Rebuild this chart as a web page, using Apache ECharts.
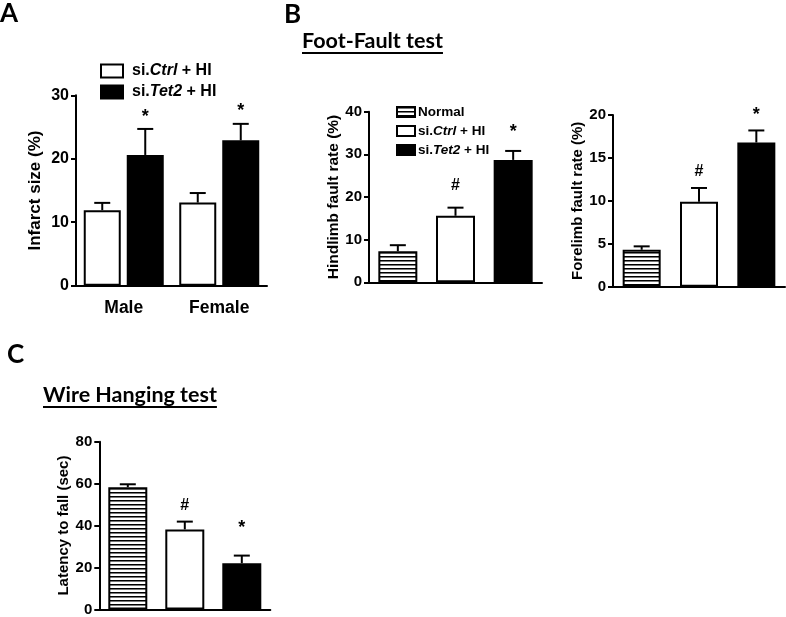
<!DOCTYPE html>
<html>
<head>
<meta charset="utf-8">
<script src="https://cdn.jsdelivr.net/npm/echarts@6/dist/echarts.min.js"></script>
<style>html,body{margin:0;padding:0;background:#fff}#c{width:786px;height:617px}</style>
</head>
<body>
<div id="c"></div>
<script>
// ---------- data ----------
const sexCategories = ['Male', 'Female'];
const infarctCtrl = [11.9, 13.1];
const infarctCtrlSem = [1.15, 1.5];
const infarctTet2 = [20.6, 22.9];
const infarctTet2Sem = [4.1, 2.6];
const infarctTet2Marks = ['*', '*'];
const infarctTet2MarkLevel = [27.2, 28.05];

const groupNames = ['Normal', 'si.Ctrl + HI', 'si.Tet2 + HI'];
const hindlimb = [7.3, 15.6, 28.7];
const hindlimbSem = [1.4, 1.9, 2.1];
const hindlimbMarks = ['', '#', '*'];
const hindlimbMarkLevel = [0, 22.6, 36.1];

const forelimb = [4.3, 9.9, 16.8];
const forelimbSem = [0.4, 1.6, 1.4];
const forelimbMarks = ['', '#', '*'];
const forelimbMarkLevel = [0, 13.4, 20.4];

const latency = [58.3, 38.2, 22.1];
const latencySem = [1.4, 3.7, 3.6];
const latencyMarks = ['', '#', '*'];
const latencyMarkLevel = [0, 49.4, 40.5];

const ticksInfarct = {min: 0, max: 30, interval: 10};
const ticksHind = {min: 0, max: 40, interval: 10};
const ticksFore = {min: 0, max: 20, interval: 5};
const ticksLatency = {min: 0, max: 80, interval: 20};

// ---------- styles ----------
const SANS = '"Liberation Sans", Arial, sans-serif';
const TITLEF = 'Lato, "Open Sans", sans-serif';

function stripePattern() {
  const c = document.createElement('canvas');
  c.width = 4; c.height = 4;
  const g = c.getContext('2d');
  g.fillStyle = '#fff'; g.fillRect(0, 0, 4, 4);
  g.fillStyle = '#000'; g.fillRect(0, 0, 4, 1);
  g.fillStyle = '#777'; g.fillRect(0, 1, 4, 1);
  return {image: c, repeat: 'repeat'};
}
const stripes = stripePattern();
const groupStyles = [
  {color: stripes, borderColor: '#000', borderWidth: 2},
  {color: '#fff', borderColor: '#000', borderWidth: 2},
  {color: '#000', borderColor: '#000', borderWidth: 2}
];

function legendFormatter(name) {
  if (name === 'si.Ctrl + HI') return '{n|si.}{i|Ctrl}{n| + HI}';
  if (name === 'si.Tet2 + HI') return '{n|si.}{i|Tet2}{n| + HI}';
  return '{n|' + name + '}';
}
function legendRich(size, lh) {
  return {
    n: {fontFamily: SANS, fontWeight: 'bold', fontSize: size, lineHeight: lh, color: '#000'},
    i: {fontFamily: SANS, fontWeight: 'bold', fontStyle: 'italic', fontSize: size, lineHeight: lh, color: '#000'}
  };
}

function errorRenderer(means, sems, marks, levels, offset) {
  return function (params, api) {
    const i = params.dataIndex;
    const base = api.coord([i, means[i]]);
    const top = api.coord([i, means[i] + sems[i]]);
    const cx = base[0] + offset;
    const half = 8;
    const children = [
      {type: 'line', shape: {x1: cx, y1: base[1], x2: cx, y2: top[1]}, style: {stroke: '#000', lineWidth: 2}},
      {type: 'line', shape: {x1: cx - half, y1: top[1], x2: cx + half, y2: top[1]}, style: {stroke: '#000', lineWidth: 2}}
    ];
    if (marks && marks[i]) {
      const p = api.coord([i, levels[i]]);
      const isStar = marks[i] === '*';
      children.push({
        type: 'text', x: cx, y: p[1] + (isStar ? 3.5 : 0),
        style: {text: marks[i], fontFamily: SANS, fontWeight: 'bold', fontSize: isStar ? 18 : 16,
          align: 'center', verticalAlign: 'middle', fill: '#000'}
      });
    }
    return {type: 'group', children: children};
  };
}

function yAxisCfg(grid, ticks, name, nameSize, labelSize, gap) {
  return {
    type: 'value', gridIndex: grid, min: ticks.min, max: ticks.max, interval: ticks.interval,
    name: name, nameLocation: 'middle', nameGap: gap,
    nameTextStyle: {fontFamily: SANS, fontWeight: 'bold', fontSize: nameSize, color: '#000'},
    axisLine: {show: true, lineStyle: {color: '#000', width: 2}},
    axisTick: {show: true, length: 5, lineStyle: {color: '#000', width: 2}},
    axisLabel: {fontFamily: SANS, fontWeight: 'bold', fontSize: labelSize, color: '#000', margin: 7},
    splitLine: {show: false}
  };
}
function xAxisCfg(grid, cats, showLabels) {
  return {
    type: 'category', gridIndex: grid, data: cats,
    axisLine: {show: true, onZero: false, lineStyle: {color: '#000', width: 2}},
    axisTick: {show: false},
    axisLabel: {show: showLabels, fontFamily: SANS, fontWeight: 'bold', fontSize: 17.5, color: '#000', margin: 13},
    splitLine: {show: false}
  };
}

function singleBars(gridIdx, values, barW) {
  return groupNames.map((n, k) => ({
    type: 'bar', name: n, xAxisIndex: gridIdx, yAxisIndex: gridIdx,
    data: values.map((v, i) => (i === k ? v : '-')),
    barWidth: barW, barGap: '-100%', itemStyle: groupStyles[k], animation: false, z: 2
  }));
}
function errSeries(gridIdx, means, sems, marks, levels, offset) {
  return {
    type: 'custom', xAxisIndex: gridIdx, yAxisIndex: gridIdx, clip: false, animation: false, z: 3,
    data: means.map((v, i) => [i, v]),
    renderItem: errorRenderer(means, sems, marks, levels, offset)
  };
}

// title helper with underline, font size fitted to a target width
function measure(text, font) {
  const c = document.createElement('canvas').getContext('2d');
  c.font = font; return c.measureText(text).width;
}
function underlinedTitle(text, x, baseline, targetW) {
  const w0 = measure(text, 'bold 20px ' + TITLEF);
  const size = 20 * targetW / w0;
  const font = 'bold ' + size.toFixed(2) + 'px ' + TITLEF;
  const w = measure(text, font);
  return [
    {type: 'text', x: x, y: baseline - 0.93 * size, style: {text: text, font: font, fill: '#000', verticalAlign: 'top'}},
    {type: 'line', shape: {x1: x, y1: baseline + 2.5, x2: x + w, y2: baseline + 2.5}, style: {stroke: '#000', lineWidth: 1.8}}
  ];
}

const barWA = 37, gapA = 6;
const offA = (barWA + gapA) / 2;

const option = {
  backgroundColor: '#fff',
  animation: false,
  grid: [
    {left: 76, top: 95.3, width: 191, height: 190.4},
    {left: 369, top: 111.7, width: 173, height: 170.6},
    {left: 613, top: 115, width: 172, height: 171.7},
    {left: 99.3, top: 441.7, width: 171, height: 170}
  ],
  xAxis: [
    xAxisCfg(0, sexCategories, true),
    xAxisCfg(1, groupNames, false),
    xAxisCfg(2, groupNames, false),
    xAxisCfg(3, groupNames, false)
  ],
  yAxis: [
    yAxisCfg(0, ticksInfarct, 'Infarct size (%)', 17, 16, 32),
    yAxisCfg(1, ticksHind, 'Hindlimb fault rate (%)', 15.5, 15, 27),
    yAxisCfg(2, ticksFore, 'Forelimb fault rate (%)', 15, 15, 27),
    yAxisCfg(3, ticksLatency, 'Latency to fall (sec)', 15, 15, 27)
  ],
  legend: [
    {data: ['si.Ctrl + HI', 'si.Tet2 + HI'], orient: 'vertical', left: 95, top: 58, icon: 'rect',
      itemWidth: 22, itemHeight: 13, itemGap: 5, selectedMode: false, formatter: legendFormatter,
      textStyle: {lineHeight: 13, rich: legendRich(16, 13), padding: [0, 0, 0, 4]}},
    {data: groupNames, orient: 'vertical', left: 391, top: 100, icon: 'rect',
      itemWidth: 18, itemHeight: 10, itemGap: 5, selectedMode: false, formatter: legendFormatter,
      textStyle: {lineHeight: 10, rich: legendRich(13.5, 10), padding: [0, 0, 0, -2]}}
  ],
  series: [
    {type: 'bar', name: 'si.Ctrl + HI', xAxisIndex: 0, yAxisIndex: 0, data: infarctCtrl,
      barWidth: barWA, barGap: (gapA / barWA * 100) + '%', itemStyle: groupStyles[1], z: 2},
    {type: 'bar', name: 'si.Tet2 + HI', xAxisIndex: 0, yAxisIndex: 0, data: infarctTet2,
      barWidth: barWA, barGap: (gapA / barWA * 100) + '%', itemStyle: groupStyles[2], z: 2},
    errSeries(0, infarctCtrl, infarctCtrlSem, null, null, -offA),
    errSeries(0, infarctTet2, infarctTet2Sem, infarctTet2Marks, infarctTet2MarkLevel, offA),
    ...singleBars(1, hindlimb, 39),
    errSeries(1, hindlimb, hindlimbSem, hindlimbMarks, hindlimbMarkLevel, 0),
    ...singleBars(2, forelimb, 38),
    errSeries(2, forelimb, forelimbSem, forelimbMarks, forelimbMarkLevel, 0),
    ...singleBars(3, latency, 39),
    errSeries(3, latency, latencySem, latencyMarks, latencyMarkLevel, 0)
  ],
  graphic: [
    {type: 'text', left: 0, top: 1, style: {text: 'A', font: 'bold 26px ' + TITLEF, fill: '#000'}},
    {type: 'text', left: 284, top: 2, style: {text: 'B', font: 'bold 26px ' + TITLEF, fill: '#000'}},
    {type: 'text', left: 7, top: 342, style: {text: 'C', font: 'bold 26px ' + TITLEF, fill: '#000'}},
    ...underlinedTitle('Foot-Fault test', 302, 50.5, 141),
    ...underlinedTitle('Wire Hanging test', 43, 404.5, 174)
  ]
};

const chart = echarts.init(document.getElementById('c'), null, {renderer: 'canvas'});
chart.setOption(option);
</script>
</body>
</html>
